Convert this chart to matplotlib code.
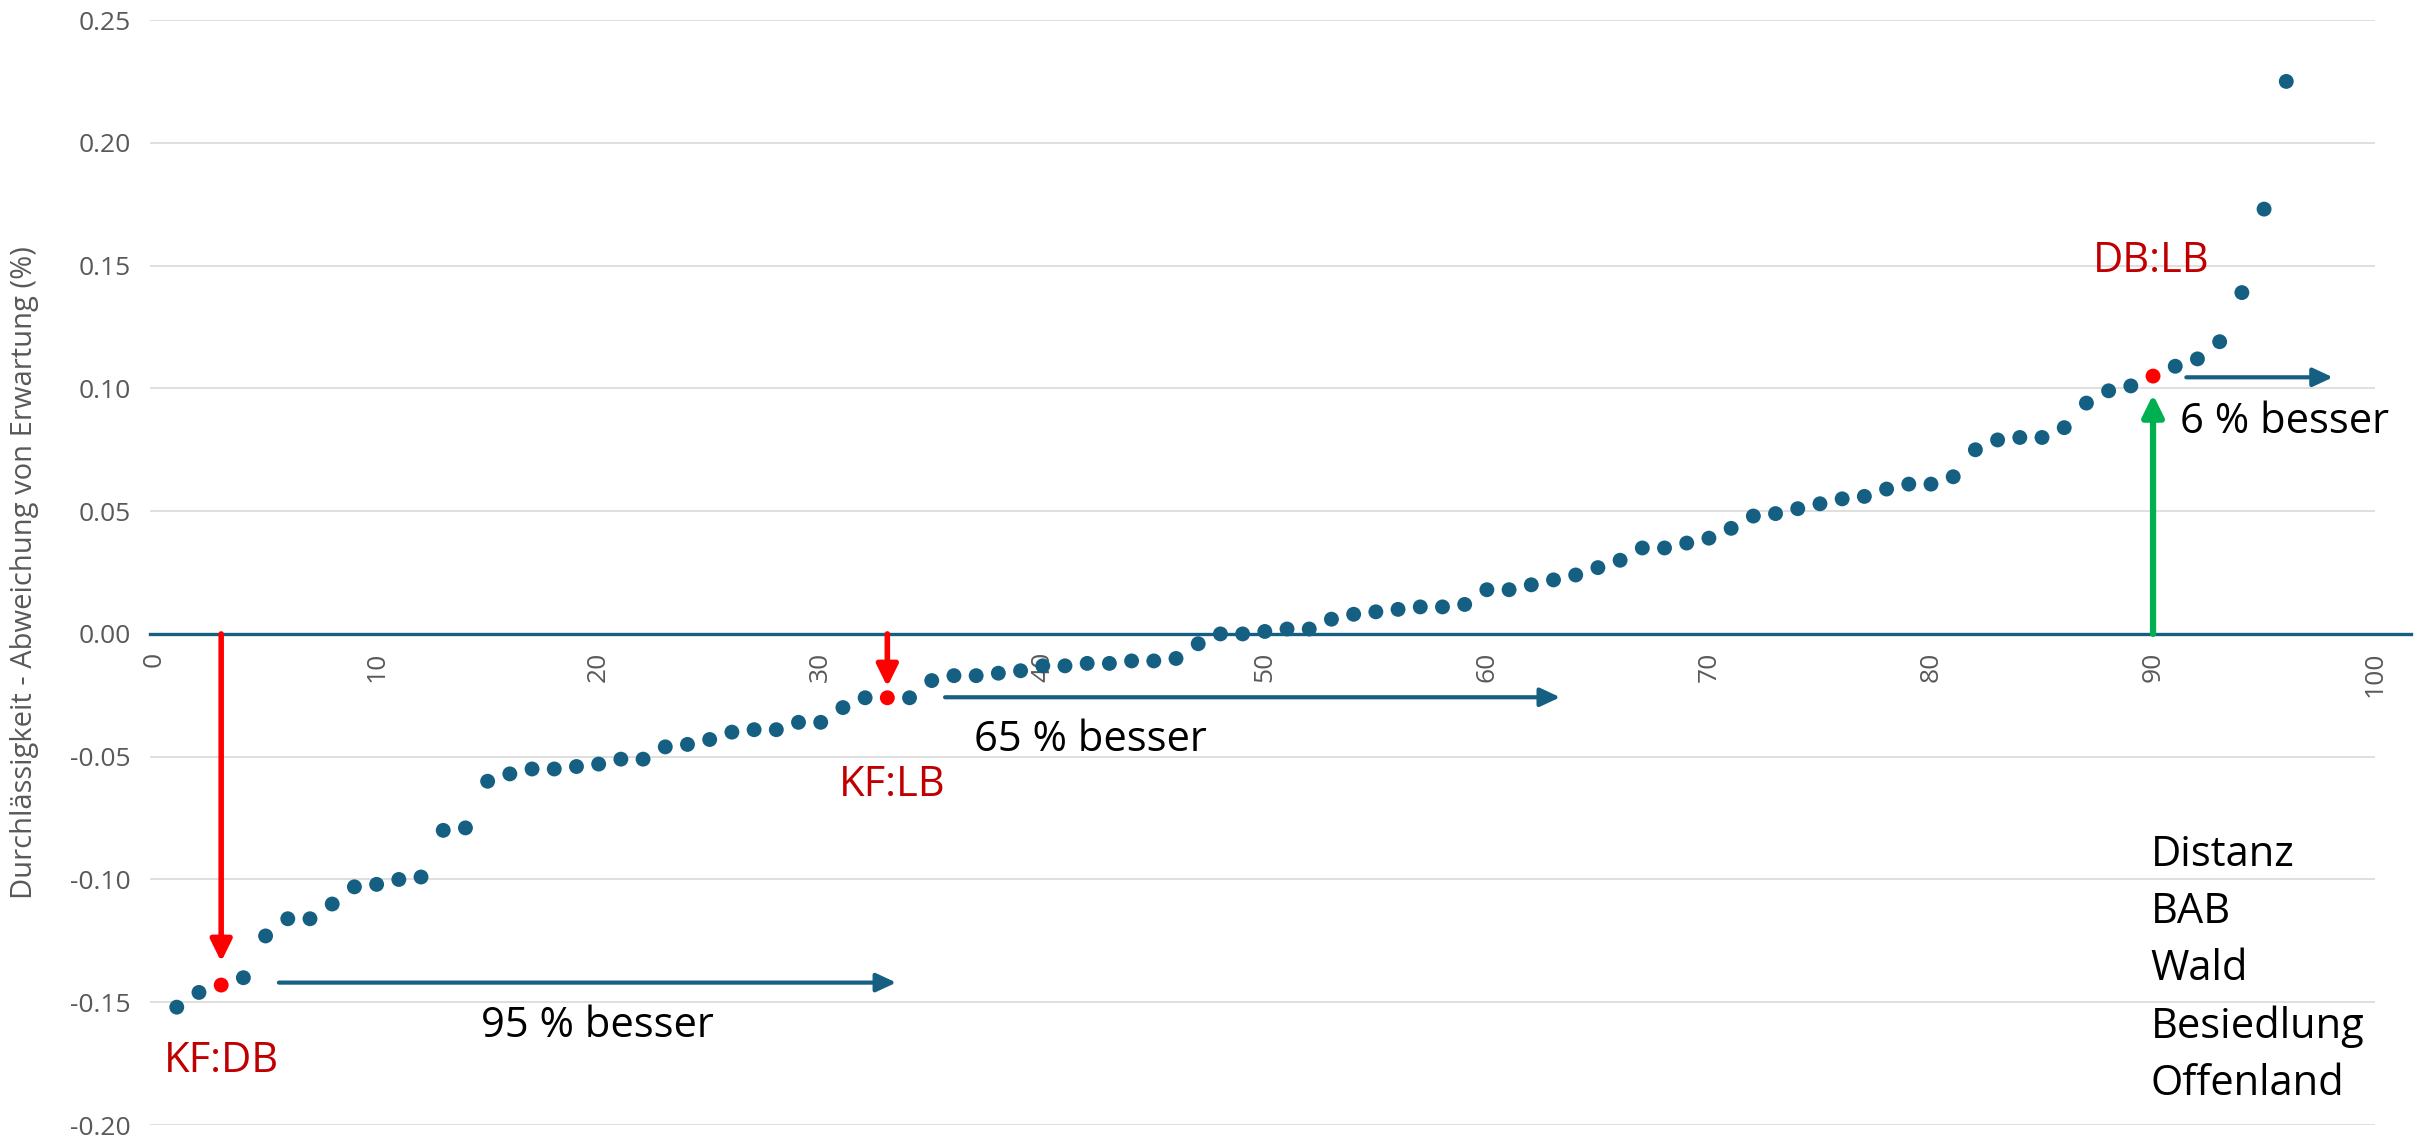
import matplotlib
matplotlib.use("Agg")
import matplotlib.pyplot as plt
from matplotlib.ticker import FormatStrFormatter, MultipleLocator

plt.rcParams['font.family'] = ['Open Sans', 'DejaVu Sans']
plt.rcParams['axes.unicode_minus'] = False

# Rang der Varianten (sortiert) und Abweichung von der Erwartung
rang = list(range(1, 97))
abweichung = [
    -0.152, -0.146, -0.143, -0.140, -0.123, -0.116, -0.116, -0.110, -0.103, -0.102,
    -0.100, -0.099, -0.080, -0.079, -0.060, -0.057, -0.055, -0.055, -0.054, -0.053,
    -0.051, -0.051, -0.046, -0.045, -0.043, -0.040, -0.039, -0.039, -0.036, -0.036,
    -0.030, -0.026, -0.026, -0.026, -0.019, -0.017, -0.017, -0.016, -0.015, -0.013,
    -0.013, -0.012, -0.012, -0.011, -0.011, -0.010, -0.004, 0.000, 0.000, 0.001,
    0.002, 0.002, 0.006, 0.008, 0.009, 0.010, 0.011, 0.011, 0.012, 0.018,
    0.018, 0.020, 0.022, 0.024, 0.027, 0.030, 0.035, 0.035, 0.037, 0.039,
    0.043, 0.048, 0.049, 0.051, 0.053, 0.055, 0.056, 0.059, 0.061, 0.061,
    0.064, 0.075, 0.079, 0.080, 0.080, 0.084, 0.094, 0.099, 0.101, 0.105,
    0.109, 0.112, 0.119, 0.139, 0.173, 0.225,
]
# hervorgehobene Varianten (Rang) und ihre Beschriftung
markiert = [3, 33, 90]
markiert_namen = ['KF:DB', 'KF:LB', 'DB:LB']
anteil_besser = ['95 % besser', '65 % besser', '6 % besser']
faktoren = ['Distanz', 'BAB', 'Wald', 'Besiedlung', 'Offenland']

blau = '#156082'
rot = '#FF0000'
dunkelrot = '#C00000'
gruen = '#00B050'
grau = '#595959'

fig = plt.figure(figsize=(24.33, 11.38), dpi=100)
ax = fig.add_axes([0.0617, 0.0114, 0.9145, 0.971])

farben = [rot if r in markiert else blau for r in rang]
ax.scatter(rang, abweichung, s=115, c=farben, edgecolors='none', zorder=4)

ax.set_xlim(-0.2, 100)
ax.set_ylim(-0.2, 0.25)
ax.yaxis.set_major_locator(MultipleLocator(0.05))
ax.yaxis.set_major_formatter(FormatStrFormatter('%.2f'))
ax.xaxis.set_major_locator(MultipleLocator(10))
ax.grid(axis='y', color='#D9D9D9', linewidth=1.2, zorder=0)
ax.set_axisbelow(True)

for s in ['top', 'right', 'left']:
    ax.spines[s].set_visible(False)
ax.spines['bottom'].set_position(('data', 0))
ax.spines['bottom'].set_color(blau)
ax.spines['bottom'].set_linewidth(2.4)
ax.spines['bottom'].set_bounds(-0.2, 101.6)
ax.spines['bottom'].set_zorder(3)

ax.tick_params(axis='y', length=0, pad=14, labelsize=19, labelcolor=grau)
ax.tick_params(axis='x', length=0, pad=13, labelsize=19, labelcolor=grau,
               labelrotation=90)

ax.set_ylabel('Durchlässigkeit - Abweichung von Erwartung (%)',
              fontsize=21, color=grau)
ax.yaxis.set_label_coords(-0.05, 0.5)

pfeil = dict(shrinkA=0, shrinkB=0, mutation_scale=20)
kopf_rot = '-|>,head_length=0.65,head_width=0.32'
kopf_blau = '-|>,head_length=0.6,head_width=0.28'

# senkrechte Pfeile zu den markierten Punkten
ax.annotate('', xy=(3, -0.1335), xytext=(3, 0),
            arrowprops=dict(arrowstyle=kopf_rot, color=rot, lw=4, **pfeil), zorder=5)
ax.annotate('', xy=(33, -0.0215), xytext=(33, 0),
            arrowprops=dict(arrowstyle=kopf_rot, color=rot, lw=4, **pfeil), zorder=5)
ax.annotate('', xy=(90, 0.0975), xytext=(90, 0),
            arrowprops=dict(arrowstyle=kopf_rot, color=gruen, lw=4.5, **pfeil), zorder=5)

# waagerechte Pfeile (Anteil besserer Varianten)
ax.annotate('', xy=(33.4, -0.1420), xytext=(5.6, -0.1420),
            arrowprops=dict(arrowstyle=kopf_blau, color=blau, lw=3, **pfeil))
ax.annotate('', xy=(63.3, -0.0258), xytext=(35.6, -0.0258),
            arrowprops=dict(arrowstyle=kopf_blau, color=blau, lw=3, **pfeil))
ax.annotate('', xy=(98.1, 0.1045), xytext=(91.5, 0.1045),
            arrowprops=dict(arrowstyle=kopf_blau, color=blau, lw=3, **pfeil),
            annotation_clip=False)

# Beschriftungen
ax.text(3.0, -0.174, markiert_namen[0], color=dunkelrot, fontsize=30,
        ha='center', va='center')
ax.text(33.2, -0.0614, markiert_namen[1], color=dunkelrot, fontsize=30,
        ha='center', va='center')
ax.text(89.9, 0.152, markiert_namen[2], color=dunkelrot, fontsize=30,
        ha='center', va='center')

ax.text(14.7, -0.1595, anteil_besser[0], color='black', fontsize=30,
        ha='left', va='center')
ax.text(36.9, -0.043, anteil_besser[1], color='black', fontsize=30,
        ha='left', va='center')
ax.text(91.2, 0.0865, anteil_besser[2], color='black', fontsize=30,
        ha='left', va='center')

ax.text(89.9, -0.0815, '\n'.join(faktoren), color='black', fontsize=30,
        ha='left', va='top', linespacing=1.47)

fig.savefig('out.png', dpi=100)
